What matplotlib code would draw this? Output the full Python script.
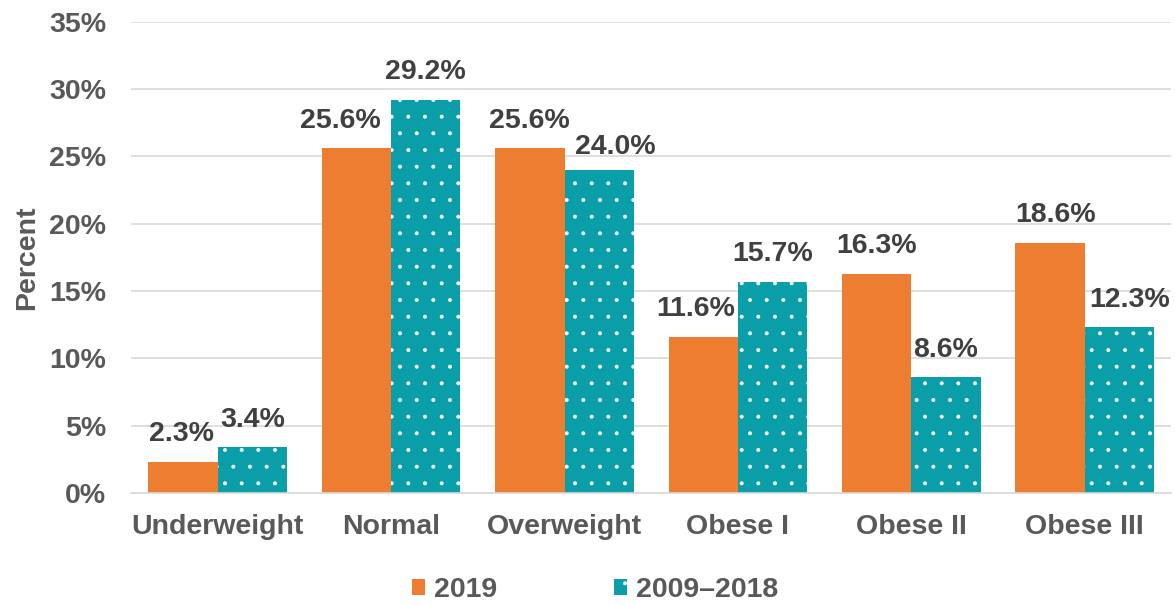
import matplotlib.pyplot as plt
import numpy as np
from matplotlib.ticker import PercentFormatter

plt.rcParams.update({
    "font.family": ["Liberation Sans", "DejaVu Sans"],
    "font.weight": "bold",
    "hatch.linewidth": 0.4,
})

categories = ['Underweight', 'Normal', 'Overweight', 'Obese I', 'Obese II', 'Obese III']
vals_2019 = [2.3, 25.6, 25.6, 11.6, 16.3, 18.6]
vals_range = [3.4, 29.2, 24.0, 15.7, 8.6, 12.3]
series_labels = ['2019', '2009\u20132018']

# hand-nudged label offsets (points), as in the original chart
dx_2019 = [-1.4, -11.5, 0, -5.8, 0, 4.3]
dx_range = [0, 0, 11.5, 0, 0, 7.2]
dy_2019 = [20, 20, 20, 20, 20, 20]
dy_range = [20, 20, 16.5, 20, 19.5, 19.5]

orange = '#ED7D31'
teal = '#0A9FA8'
text_gray = '#595959'
label_dark = '#404040'
fs = 20.5

fig = plt.figure(figsize=(11.75, 6.05), dpi=100)
ax = fig.add_axes([0.1115, 0.185, 0.8855, 0.779])

x = np.arange(len(categories))
w = 0.4
b1 = ax.bar(x - w / 2, vals_2019, w, color=orange, linewidth=0, label=series_labels[0], zorder=2)
b2 = ax.bar(x + w / 2, vals_range, w, color=teal, edgecolor='white', linewidth=0,
            hatch='.', label=series_labels[1], zorder=2)

for bars, vals, dxs, dys in ((b1, vals_2019, dx_2019, dy_2019), (b2, vals_range, dx_range, dy_range)):
    for rect, v, dx, dy in zip(bars, vals, dxs, dys):
        ax.annotate(f"{v:.1f}%", (rect.get_x() + rect.get_width() / 2, v),
                    textcoords="offset points", xytext=(dx, dy), ha='center', va='center',
                    fontsize=fs, fontweight='bold', color=label_dark)

ax.set_ylim(0, 35)
ax.set_xlim(-0.5, len(categories) - 0.5)
ax.set_yticks(np.arange(0, 36, 5))
ax.yaxis.set_major_formatter(PercentFormatter(decimals=0))
ax.set_xticks(x)
ax.set_xticklabels(categories)
ax.tick_params(axis='both', length=0, labelsize=fs, labelcolor=text_gray)
ax.tick_params(axis='y', pad=18)
ax.tick_params(axis='x', pad=15)
ax.set_ylabel('Percent', fontsize=fs, color=text_gray, fontweight='bold', labelpad=6)
ax.grid(axis='y', color='#D9D9D9', linewidth=1.2, zorder=0)
ax.set_axisbelow(True)
for s in ('top', 'right', 'left'):
    ax.spines[s].set_visible(False)
ax.spines['bottom'].set_color('#D9D9D9')
ax.spines['bottom'].set_linewidth(1.2)

leg = fig.legend(handles=[b1, b2], loc='center', bbox_to_anchor=(0.5064, 0.024), ncol=2,
                 frameon=False, fontsize=fs, handlelength=0.48, handleheight=0.48,
                 handletextpad=0.3, columnspacing=4.1)
for t in leg.get_texts():
    t.set_color(text_gray)

plt.savefig('out.png', dpi=100)
